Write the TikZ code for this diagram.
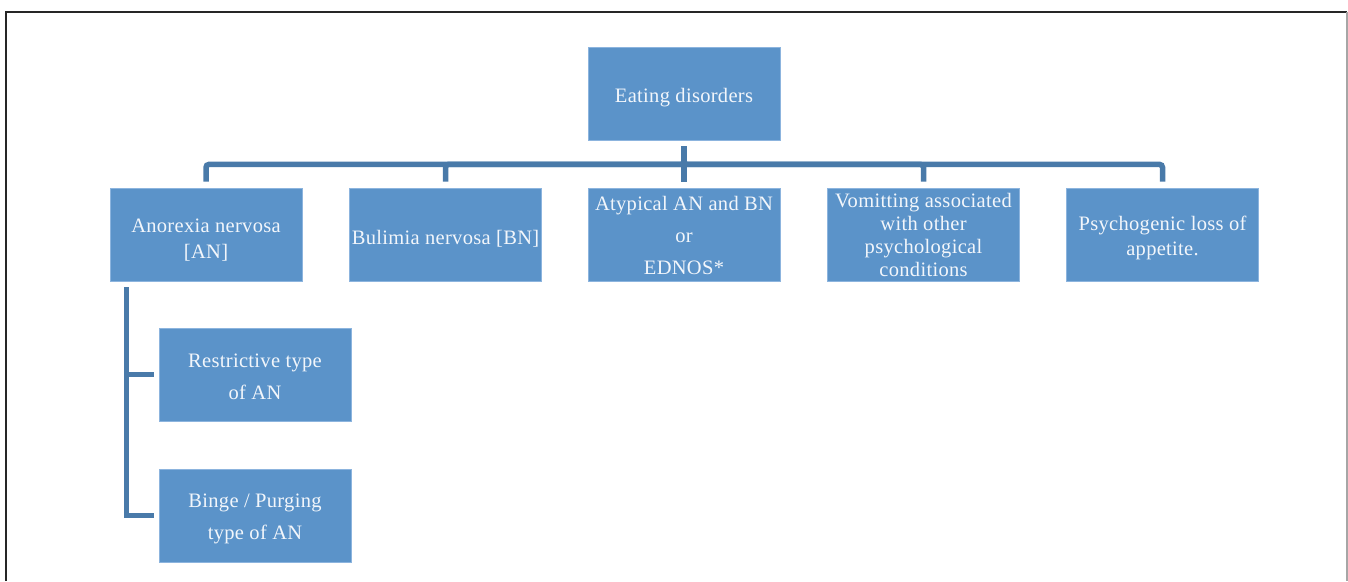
\documentclass[tikz,border=0pt]{standalone}
\usepackage{fontspec}
\setmainfont[LetterSpace=1.5]{Liberation Serif}
\definecolor{boxfill}{RGB}{91,147,201}
\definecolor{boxedge}{RGB}{140,180,222}
\definecolor{linecol}{RGB}{73,122,169}
\definecolor{txtcol}{RGB}{242,246,251}
\newcommand\liftby[1]{\rule{0pt}{#1pt}}
\begin{document}
\begin{tikzpicture}[x=1pt,y=-1pt,
  box/.style={fill=boxfill, draw=boxedge, line width=0.8pt, minimum width=192pt, minimum height=93pt,
    inner sep=0pt, align=center, text=txtcol},
  conn/.style={draw=linecol, line width=5.5pt, rounded corners=3pt},
  ls/.style={font=\fontsize{20.5}{#1}\selectfont}]
\useasboundingbox (0,0) rectangle (1348,581);
% frame
\draw[line width=1.4pt, draw=black!85] (6,581) -- (6,12) -- (1347,12);
\draw[line width=1.4pt, draw=black!35] (1347,12) -- (1347,581);
% nodes
\node[box, ls=25] (top) at (684,93.5) {\liftby{22}Eating disorders};
\node[box, ls=26] (an) at (206,234.5) {\liftby{24}Anorexia nervosa\\{[AN]}};
\node[box, ls=26] (bn) at (445.5,234.5) {\liftby{22}Bulimia nervosa [BN]};
\node[box, ls=32] (atyp) at (684,234.5) {\liftby{16}Atypical AN and BN\\or\\EDNOS*};
\node[box, ls=23] (vom) at (923.5,234.5) {Vomitting associated\\with other\\psychological\\conditions};
\node[box, ls=25] (psy) at (1162.5,234.5) {\liftby{22}Psychogenic loss of\\appetite.};
\node[box, ls=32] (restr) at (255,374.5) {\liftby{18}Restrictive type\\of AN};
\node[box, ls=32] (binge) at (255,515.5) {\liftby{20}Binge / Purging\\type of AN};
% connectors
\draw[conn, shorten <=6pt, shorten >=6pt] (top.south) -- ++(0,24) -| (an.north);
\draw[conn, shorten <=6pt, shorten >=6pt] (top.south) -- ++(0,24) -| (psy.north);
\draw[conn, shorten <=6pt, shorten >=6pt] (top.south) -- ++(0,24) -| (bn.north);
\draw[conn, shorten <=6pt, shorten >=6pt] (top.south) -- ++(0,24) -| (vom.north);
\draw[conn, shorten <=6pt, shorten >=6pt] (top.south) -- (atyp.north);
\coordinate (anleg) at ([xshift=17pt]an.south west);
\draw[conn, rounded corners=0pt, shorten <=6pt, shorten >=5pt] (anleg) |- (restr.west);
\draw[conn, rounded corners=0pt, shorten <=6pt, shorten >=5pt] (anleg) |- (binge.west);
\end{tikzpicture}
\end{document}
